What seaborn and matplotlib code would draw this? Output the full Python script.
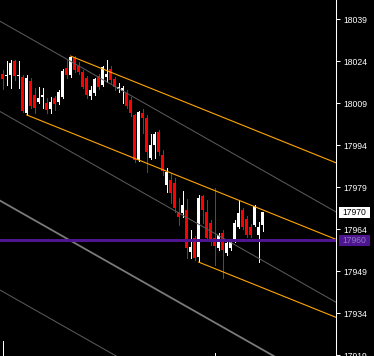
import matplotlib
matplotlib.use("Agg")
import numpy as np
import pandas as pd
import matplotlib.pyplot as plt
import matplotlib.transforms as mtransforms
from matplotlib.patches import Rectangle
import seaborn as sns

# OHLC, one bar each, oldest first
opens = [18019.4, 18018.8, 18019.0, 18024.0, 18018.8, 18018.3, 18005.5, 18016.9, 18011.9, 18009.4,
         18011.2, 18009.0, 18006.9, 18010.8, 18009.4, 18011.2, 18021.5, 18019.0, 18025.1, 18022.2,
         18020.1, 18018.0, 18011.5, 18012.6, 18018.7, 18015.5, 18018.3, 18021.2, 18017.6, 18014.2,
         18013.3, 18012.6, 18010.1, 18004.8, 17988.7, 18005.5, 18003.7, 17989.4, 17994.1, 17998.7,
         17990.5, 17979.8, 17981.6, 17980.5, 17970.2, 17969.8, 17970.9, 17955.9, 17960.9, 17954.1,
         17975.9, 17970.2, 17966.2, 17960.9, 17957.3, 17962.7, 17955.5, 17957.3, 17960.2, 17964.8,
         17970.9, 17967.7, 17964.8, 17965.5, 17962.0, 17965.5]
closes = [18017.6, 18019.2, 18023.3, 18018.7, 18019.2, 18006.2, 18018.0, 18008.0, 18007.3, 18010.8,
          18011.9, 18006.5, 18009.4, 18008.7, 18013.0, 18020.5, 18019.0, 18025.4, 18020.8, 18020.1,
          18014.7, 18011.9, 18013.7, 18017.6, 18014.7, 18021.9, 18019.4, 18017.2, 18014.7, 18014.6,
          18014.4, 18008.0, 18005.5, 17988.7, 18005.8, 18003.7, 17991.6, 17994.1, 17998.0, 17991.6,
          17984.8, 17984.4, 17976.9, 17971.6, 17968.4, 17972.6, 17957.3, 17957.7, 17953.7, 17975.1,
          17970.9, 17960.9, 17960.2, 17958.0, 17962.0, 17956.6, 17959.1, 17959.5, 17966.2, 17969.8,
          17964.8, 17962.0, 17962.0, 17972.3, 17964.8, 17970.0]
highs = [18020.8, 18024.0, 18024.4, 18024.4, 18024.0, 18019.0, 18019.0, 18018.0, 18014.4, 18014.7,
         18014.4, 18010.8, 18011.2, 18011.5, 18013.7, 18021.2, 18024.4, 18025.8, 18025.8, 18023.7,
         18020.8, 18018.7, 18015.1, 18018.0, 18019.4, 18022.2, 18024.4, 18022.2, 18018.3, 18016.2,
         18015.1, 18013.7, 18011.2, 18005.1, 18006.2, 18006.9, 18004.8, 17998.0, 17998.7, 17999.4,
         17992.3, 17985.9, 17984.1, 17982.3, 17975.1, 17977.6, 17974.8, 17963.7, 17961.6, 17976.2,
         17976.2, 17974.4, 17967.3, 17978.7, 17962.7, 17963.7, 17959.8, 17960.5, 17967.3, 17974.4,
         17971.6, 17968.7, 17965.9, 17972.6, 17966.6, 17970.2]
lows = [18014.0, 18015.5, 18014.4, 18017.2, 18014.4, 18005.8, 18004.8, 18007.3, 18005.5, 18009.0,
        18007.3, 18005.5, 18005.5, 18006.5, 18008.7, 18010.8, 18018.0, 18018.3, 18020.1, 18019.4,
        18014.4, 18010.8, 18010.5, 18011.9, 18014.0, 18015.1, 18016.5, 18015.8, 18013.7, 18013.0,
        18009.0, 18007.3, 18004.4, 17988.0, 17988.3, 17998.3, 17984.4, 17989.1, 17989.4, 17990.5,
        17983.4, 17977.3, 17973.4, 17970.2, 17965.5, 17968.4, 17953.7, 17953.7, 17953.0, 17952.3,
        17966.2, 17960.2, 17958.4, 17951.2, 17956.6, 17946.6, 17954.8, 17956.6, 17959.5, 17964.4,
        17964.1, 17961.2, 17961.2, 17965.2, 17952.3, 17963.4]

# trend channel (orange): anchor bar, anchor price; shared slope in price per bar
channel_bars = [17, 6, 49]
channel_prices = [18025.8, 18004.8, 17952.3]
channel_slope = -0.574

# grey parallel lines: price at bar 0, shared slope
gray_prices = [18037.7, 18005.5, 17973.7, 17941.8]
gray_slope = -0.81

hline_price = 17960
last_price = 17970
tick_prices = [18039, 18024, 18009, 17994, 17979, 17964, 17949, 17934, 17919]

# stubs poking up from the bottom edge
stub_bars = [0, 53]
stub_tops = [17924.1, 17919.9]

df = pd.DataFrame({"open": opens, "close": closes, "high": highs, "low": lows})
df["bar"] = np.arange(len(df))
df["up"] = df["close"] >= df["open"]

sns.set_style("dark", {"axes.facecolor": "black", "figure.facecolor": "black"})
plt.rcParams["font.family"] = ["Liberation Sans", "DejaVu Sans"]

fig = plt.figure(figsize=(3.74, 3.56), dpi=100)
ax = fig.add_axes([0, 0, 336 / 374, 1])
ax.set_facecolor("black")
x_lo, x_hi = -0.625, 83.375
ax.set_xlim(x_lo, x_hi)
ax.set_ylim(17918.78, 18045.78)

# candles
colors = np.where(df["up"], "white", "#ff0000")
ax.vlines(df["bar"], df["low"], df["high"], colors=colors, linewidth=0.72, antialiased=False, zorder=2)
body_lo = np.minimum(df["open"], df["close"])
body_h = np.maximum((df["close"] - df["open"]).abs(), 0.36)
ax.bar(df["bar"], body_h, bottom=body_lo, width=0.8, color=colors, linewidth=0,
       antialiased=False, zorder=3)

# grey lines
gray_widths = [1.0, 1.0, 1.8, 1.0]
gray_colors = ["#5c5c5c", "#5c5c5c", "#7a7a7a", "#5c5c5c"]
for p0, lw, c in zip(gray_prices, gray_widths, gray_colors):
    xs = [x_lo - 1, x_hi + 1]
    sns.lineplot(x=xs, y=[p0 + gray_slope * x for x in xs], ax=ax, color=c,
                 linewidth=lw * 0.72, estimator=None, sort=False, zorder=4)

# orange channel
for b, p in zip(channel_bars, channel_prices):
    xs = [b, x_hi + 1]
    sns.lineplot(x=xs, y=[p + channel_slope * (x - b) for x in xs], ax=ax, color="#ffa500",
                 linewidth=0.8, estimator=None, sort=False, zorder=5)

ax.axhline(hline_price, color="#4f1490", linewidth=2.1, antialiased=False, zorder=6)
ax.vlines(stub_bars, 17918.0, stub_tops, colors="white", linewidth=0.72, antialiased=False, zorder=3)

# right price axis
for s in ["top", "bottom", "left"]:
    ax.spines[s].set_visible(False)
ax.spines["right"].set_visible(True)
ax.spines["right"].set_color("white")
ax.spines["right"].set_linewidth(0.75)
ax.yaxis.tick_right()
ax.set_yticks(tick_prices)
ax.set_yticklabels([str(t) for t in tick_prices])
ax.tick_params(axis="y", colors="white", length=3, width=0.75, pad=2, labelsize=6.2)
ax.set_xticks([])
ax.grid(False)

trans = mtransforms.blended_transform_factory(ax.transAxes, ax.transData)
half_h = 5.8 * 127.0 / 356
for price, bg, fg in [(last_price, "white", "black"), (hline_price, "#4f1490", "#8c7cc0")]:
    ax.add_patch(Rectangle((1 + 3 / 336, price - half_h), 31 / 336, 2 * half_h, transform=trans,
                           facecolor=bg, edgecolor="none", clip_on=False, zorder=10))
    ax.text(1 + 18.5 / 336, price, str(price), transform=trans, ha="center", va="center",
            color=fg, fontsize=6.2, zorder=11, clip_on=False)

fig.savefig("out.png", dpi=100, facecolor="black")
